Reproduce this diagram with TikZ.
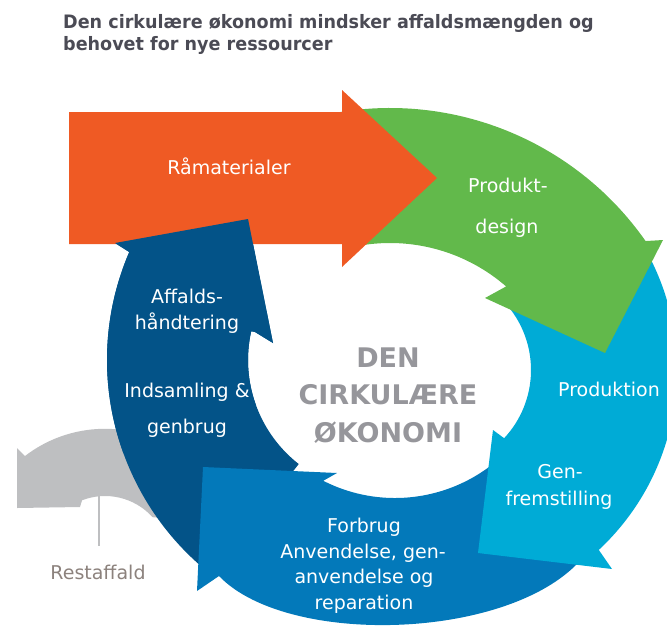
\documentclass[tikz,border=0pt]{standalone}
\usepackage{fontspec}
\setmainfont{DejaVu Sans}
\newfontfamily\titlefont[FakeStretch=0.95]{DejaVu Sans}
\definecolor{orangeA}{RGB}{239,90,36}
\definecolor{greenA}{RGB}{98,185,75}
\definecolor{lblue}{RGB}{0,171,214}
\definecolor{mblue}{RGB}{3,121,186}
\definecolor{dblue}{RGB}{3,83,136}
\definecolor{grayA}{RGB}{190,191,193}
\definecolor{ctext}{RGB}{150,150,155}
\definecolor{ttext}{RGB}{75,75,85}
\definecolor{rtext}{RGB}{140,130,125}
\begin{document}
\begin{tikzpicture}[x=1pt,y=1pt,yscale=-1,
  lab/.style={text=white,font=\fontsize{19}{22}\selectfont,anchor=base,inner sep=0pt},
  ctr/.style={text=ctext,font=\fontsize{27}{30}\selectfont\bfseries,anchor=base,inner sep=0pt},
  ttl/.style={text=ttext,font=\titlefont\fontsize{18.5}{22}\selectfont\bfseries,anchor=base west,inner sep=0pt}]
\useasboundingbox (0,0) rectangle (667,630);
\clip (0,0) rectangle (667,630);
% gray arrow (Restaffald)
\fill[grayA] (17,448) -- (25,456) arc[start angle=232.4,end angle=300,radius=131]
  -- (185,520) -- ({105+64*cos(318)},{560+64*sin(318)}) arc[start angle=318,end angle=249,radius=64]
  -- (80,507) -- (17,508) -- cycle;
% dark blue (full)
\fill[dblue] ({380+273*cos(128)},{360+273*sin(128)}) arc[start angle=128,end angle=203.3,radius=273]
  -- (115,243) -- (248,219) -- (273,343) -- (255,332)
  -- ({380+132*cos(192.6)},{360+132*sin(192.6)}) arc[start angle=192.6,end angle=128,radius=132] -- cycle;
% blue
\fill[mblue] ({395+158*cos(40)},{340+158*sin(40)}) -- (590,548)
  .. controls (530,640) and (290,650) .. (219,576)
  -- (197,591) -- (203,467) -- (337,473)
  -- ({395+158*cos(117)},{340+158*sin(117)}) arc[start angle=117,end angle=40,radius=158] -- cycle;
% light blue
\fill[lblue] ({431+246*cos(-40)},{370+246*sin(-40)}) arc[start angle=-40,end angle=47,radius=246]
  -- (612,569) -- (478,553) -- (493,430)
  -- ({431+100*cos(43)},{370+100*sin(43)}) arc[start angle=43,end angle=-40,radius=100] -- cycle;
% green
\fill[greenA] ({390+312*cos(258)},{420+312*sin(258)}) arc[start angle=258,end angle=325,radius=312]
  -- (663,240) -- (605,353) -- (485,298)
  -- ({390+177*cos(311)},{420+177*sin(311)}) arc[start angle=311,end angle=262,radius=177] -- cycle;
% orange
\fill[orangeA] (69,112) -- (342,112) -- (342,90) -- (437,178) -- (342,267) -- (342,244) -- (69,244) -- cycle;
% dark blue (upper part, over orange)
\fill[dblue] ({380+273*cos(160)},{360+273*sin(160)}) arc[start angle=160,end angle=203.3,radius=273]
  -- (115,243) -- (248,219) -- (273,343) -- (255,332)
  -- ({380+132*cos(192.6)},{360+132*sin(192.6)}) arc[start angle=192.6,end angle=160,radius=132] -- cycle;
% title
\node[ttl] (t1) at (63,28) {Den cirkulære økonomi mindsker affaldsmængden og};
\node[ttl] (t2) at (63,50) {behovet for nye ressourcer};
% labels
\node[lab] (raa) at (229,174) {Råmaterialer};
\node[lab] (pd1) at (508,192) {Produkt-};
\node[lab] (pd2) at (507,233) {design};
\node[lab] (prod) at (609,396) {Produktion};
\node[lab] (gen1) at (560,478) {Gen-};
\node[lab] (gen2) at (559,505) {fremstilling};
\node[lab] (fb1) at (364,532) {Forbrug};
\node[lab] (fb2) at (363,558) {Anvendelse, gen-};
\node[lab] (fb3) at (364,583) {anvendelse og};
\node[lab] (fb4) at (364,609) {reparation};
\node[lab] (af1) at (187,303) {Affalds-};
\node[lab] (af2) at (187,329) {håndtering};
\node[lab] (ind1) at (187,397) {Indsamling \&};
\node[lab] (ind2) at (187,433) {genbrug};
\node[ctr] (c1) at (388,367) {DEN};
\node[ctr] (c2) at (388,404) {CIRKULÆRE};
\node[ctr] (c3) at (388,442) {ØKONOMI};
\node[text=rtext,font=\fontsize{19}{22}\selectfont,anchor=base,inner sep=0pt] (rest) at (98,579) {Restaffald};
\coordinate (rtop) at (99,496);
\coordinate (rbot) at (99,546);
\draw[grayA,line width=1.2] (rtop) -- (rbot);
\end{tikzpicture}
\end{document}
